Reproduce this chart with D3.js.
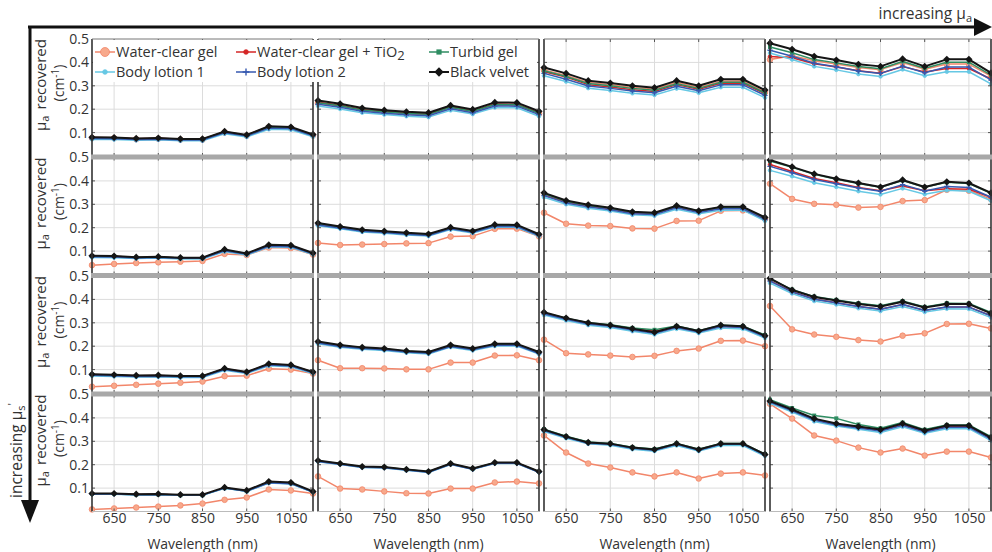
<!DOCTYPE html>
<html><head><meta charset="utf-8">
<script src="https://cdn.jsdelivr.net/npm/d3@7"></script>
<style>body{margin:0;background:#fff} svg{display:block;font-family:"Open Sans",sans-serif}</style>
</head><body><svg id="c" width="992" height="552"></svg>
<script>
// ---------------- DATA ----------------
const wavelengths = [600,650,700,750,800,850,900,950,1000,1050,1100];
const seriesNames = ["Water-clear gel","Water-clear gel + TiO2","Turbid gel","Body lotion 1","Body lotion 2","Black velvet"];
const xTickValues = [650,750,850,950,1050];
const yTickValues = [0.1,0.2,0.3,0.4,0.5];
const yTickLabels = ["0.1","0.2","0.3","0.4","0.5"];
const xAxisTitle = "Wavelength (nm)";

// each panel: [Water-clear gel, Water-clear gel + TiO2, Turbid gel, Body lotion 1, Body lotion 2, Black velvet]
const r1c1 = [
 [0.077,0.076,0.072,0.074,0.070,0.070,0.101,0.087,0.122,0.119,0.088],
 [0.079,0.078,0.074,0.076,0.072,0.072,0.104,0.089,0.125,0.122,0.090],
 [0.078,0.077,0.073,0.075,0.071,0.071,0.102,0.088,0.123,0.120,0.089],
 [0.071,0.070,0.067,0.069,0.065,0.065,0.095,0.081,0.114,0.112,0.082],
 [0.075,0.074,0.070,0.072,0.068,0.068,0.099,0.085,0.119,0.117,0.086],
 [0.080,0.079,0.075,0.077,0.073,0.073,0.105,0.090,0.127,0.124,0.092]];
const r1c2 = [
 [0.226,0.213,0.195,0.187,0.180,0.176,0.206,0.189,0.218,0.217,0.181],
 [0.230,0.217,0.199,0.191,0.184,0.180,0.210,0.193,0.222,0.221,0.185],
 [0.228,0.215,0.197,0.189,0.182,0.178,0.208,0.191,0.220,0.219,0.183],
 [0.214,0.201,0.185,0.177,0.170,0.166,0.195,0.179,0.207,0.206,0.170],
 [0.221,0.208,0.191,0.183,0.176,0.172,0.202,0.185,0.214,0.213,0.177],
 [0.237,0.223,0.205,0.196,0.189,0.185,0.216,0.199,0.229,0.228,0.191]];
const r1c3 = [
 [0.368,0.344,0.314,0.305,0.293,0.285,0.314,0.293,0.319,0.320,0.274],
 [0.360,0.337,0.305,0.295,0.283,0.276,0.305,0.285,0.311,0.311,0.266],
 [0.364,0.340,0.310,0.300,0.289,0.281,0.309,0.289,0.315,0.315,0.270],
 [0.343,0.318,0.290,0.280,0.268,0.261,0.288,0.270,0.294,0.294,0.249],
 [0.353,0.328,0.299,0.289,0.278,0.270,0.298,0.279,0.304,0.304,0.259],
 [0.378,0.353,0.322,0.312,0.300,0.292,0.322,0.300,0.328,0.328,0.282]];
const r1c4 = [
 [0.412,0.428,0.407,0.393,0.378,0.369,0.399,0.371,0.393,0.393,0.341],
 [0.425,0.420,0.394,0.380,0.364,0.354,0.382,0.359,0.374,0.374,0.329],
 [0.466,0.441,0.412,0.398,0.382,0.373,0.404,0.375,0.401,0.401,0.346],
 [0.440,0.412,0.383,0.368,0.350,0.340,0.370,0.343,0.360,0.360,0.308],
 [0.452,0.426,0.396,0.381,0.363,0.353,0.384,0.356,0.380,0.380,0.325],
 [0.482,0.456,0.426,0.410,0.392,0.383,0.415,0.383,0.413,0.413,0.355]];
const r2c1 = [
 [0.040,0.045,0.049,0.052,0.055,0.058,0.088,0.083,0.115,0.113,0.085],
 [0.079,0.078,0.073,0.075,0.071,0.071,0.105,0.089,0.125,0.123,0.091],
 [0.078,0.077,0.073,0.075,0.071,0.071,0.104,0.088,0.124,0.122,0.090],
 [0.073,0.072,0.068,0.070,0.066,0.066,0.098,0.083,0.118,0.116,0.085],
 [0.076,0.075,0.071,0.073,0.069,0.069,0.101,0.086,0.121,0.119,0.088],
 [0.080,0.079,0.074,0.076,0.072,0.072,0.107,0.090,0.127,0.125,0.092]];
const r2c2 = [
 [0.135,0.126,0.128,0.130,0.133,0.134,0.162,0.164,0.195,0.196,0.163],
 [0.215,0.202,0.188,0.182,0.175,0.170,0.198,0.183,0.209,0.208,0.169],
 [0.217,0.203,0.189,0.183,0.176,0.171,0.199,0.184,0.210,0.209,0.170],
 [0.208,0.196,0.182,0.176,0.169,0.164,0.192,0.177,0.203,0.202,0.163],
 [0.212,0.199,0.185,0.179,0.172,0.167,0.195,0.180,0.206,0.205,0.166],
 [0.220,0.205,0.191,0.185,0.178,0.173,0.201,0.186,0.213,0.212,0.172]];
const r2c3 = [
 [0.264,0.217,0.209,0.207,0.197,0.196,0.229,0.230,0.272,0.274,0.238],
 [0.340,0.310,0.292,0.280,0.263,0.259,0.288,0.268,0.284,0.284,0.239],
 [0.345,0.313,0.295,0.283,0.266,0.262,0.292,0.271,0.287,0.287,0.242],
 [0.330,0.300,0.283,0.271,0.255,0.251,0.279,0.260,0.275,0.275,0.229],
 [0.337,0.306,0.289,0.277,0.260,0.256,0.285,0.265,0.281,0.281,0.235],
 [0.349,0.316,0.298,0.285,0.268,0.264,0.294,0.272,0.289,0.289,0.244]];
const r2c4 = [
 [0.388,0.323,0.302,0.298,0.286,0.289,0.314,0.318,0.362,0.358,0.322],
 [0.470,0.440,0.410,0.392,0.372,0.358,0.378,0.358,0.366,0.364,0.330],
 [0.485,0.458,0.428,0.407,0.389,0.373,0.402,0.373,0.394,0.389,0.347],
 [0.445,0.420,0.392,0.374,0.356,0.342,0.368,0.343,0.360,0.356,0.315],
 [0.462,0.435,0.406,0.388,0.370,0.356,0.384,0.357,0.376,0.372,0.330],
 [0.489,0.460,0.430,0.409,0.391,0.374,0.404,0.374,0.396,0.391,0.349]];
const r3c1 = [
 [0.027,0.031,0.035,0.040,0.044,0.049,0.072,0.074,0.104,0.100,0.083],
 [0.079,0.077,0.074,0.075,0.072,0.072,0.104,0.089,0.124,0.119,0.089],
 [0.078,0.076,0.073,0.074,0.071,0.071,0.103,0.088,0.123,0.118,0.088],
 [0.073,0.071,0.068,0.069,0.066,0.066,0.097,0.083,0.116,0.112,0.083],
 [0.076,0.074,0.071,0.072,0.069,0.069,0.100,0.086,0.120,0.115,0.086],
 [0.080,0.078,0.075,0.076,0.073,0.073,0.105,0.090,0.125,0.120,0.090]];
const r3c2 = [
 [0.140,0.106,0.106,0.105,0.101,0.101,0.130,0.130,0.160,0.161,0.140],
 [0.216,0.201,0.192,0.187,0.177,0.172,0.202,0.187,0.207,0.207,0.172],
 [0.218,0.203,0.193,0.188,0.178,0.173,0.203,0.188,0.208,0.208,0.173],
 [0.210,0.196,0.187,0.182,0.172,0.167,0.196,0.182,0.201,0.201,0.166],
 [0.214,0.199,0.190,0.185,0.175,0.170,0.199,0.185,0.204,0.204,0.169],
 [0.220,0.205,0.195,0.190,0.180,0.175,0.205,0.190,0.210,0.210,0.175]];
const r3c3 = [
 [0.228,0.170,0.165,0.160,0.154,0.159,0.180,0.190,0.223,0.224,0.200],
 [0.340,0.318,0.297,0.288,0.272,0.265,0.280,0.263,0.285,0.281,0.241],
 [0.343,0.320,0.300,0.292,0.278,0.270,0.286,0.266,0.290,0.286,0.248],
 [0.333,0.310,0.290,0.280,0.264,0.250,0.274,0.256,0.278,0.274,0.235],
 [0.338,0.315,0.295,0.285,0.269,0.255,0.280,0.261,0.284,0.280,0.240],
 [0.345,0.320,0.300,0.290,0.275,0.260,0.285,0.265,0.290,0.285,0.245]];
const r3c4 = [
 [0.372,0.272,0.250,0.240,0.226,0.220,0.245,0.255,0.295,0.296,0.276],
 [0.480,0.432,0.402,0.386,0.370,0.358,0.378,0.352,0.368,0.367,0.330],
 [0.488,0.442,0.412,0.398,0.384,0.373,0.393,0.368,0.384,0.383,0.344],
 [0.470,0.425,0.393,0.378,0.362,0.350,0.370,0.346,0.360,0.359,0.322],
 [0.478,0.432,0.401,0.386,0.370,0.358,0.378,0.354,0.368,0.367,0.330],
 [0.490,0.440,0.410,0.395,0.380,0.370,0.390,0.365,0.380,0.380,0.340]];
const r4c1 = [
 [0.009,0.013,0.017,0.021,0.026,0.034,0.050,0.060,0.094,0.090,0.077],
 [0.076,0.076,0.073,0.074,0.071,0.071,0.101,0.088,0.125,0.121,0.084],
 [0.075,0.075,0.072,0.073,0.070,0.070,0.100,0.087,0.124,0.120,0.083],
 [0.074,0.074,0.071,0.072,0.069,0.069,0.099,0.086,0.122,0.118,0.082],
 [0.075,0.075,0.072,0.073,0.070,0.070,0.100,0.087,0.123,0.119,0.083],
 [0.077,0.077,0.074,0.075,0.072,0.072,0.103,0.090,0.128,0.124,0.086]];
const r4c2 = [
 [0.150,0.098,0.094,0.086,0.078,0.077,0.098,0.098,0.124,0.128,0.120],
 [0.215,0.203,0.190,0.188,0.178,0.169,0.203,0.182,0.207,0.207,0.169],
 [0.216,0.204,0.191,0.189,0.179,0.170,0.204,0.183,0.208,0.208,0.170],
 [0.213,0.201,0.188,0.186,0.176,0.167,0.201,0.180,0.205,0.205,0.167],
 [0.214,0.202,0.189,0.187,0.177,0.168,0.202,0.181,0.206,0.206,0.168],
 [0.218,0.205,0.192,0.190,0.180,0.171,0.205,0.184,0.209,0.209,0.171]];
const r4c3 = [
 [0.325,0.252,0.205,0.188,0.167,0.150,0.167,0.141,0.162,0.167,0.154],
 [0.345,0.316,0.291,0.286,0.269,0.261,0.286,0.261,0.286,0.286,0.240],
 [0.352,0.322,0.297,0.291,0.275,0.267,0.291,0.266,0.291,0.291,0.246],
 [0.342,0.313,0.289,0.283,0.266,0.258,0.282,0.258,0.282,0.282,0.237],
 [0.346,0.317,0.292,0.287,0.270,0.262,0.287,0.262,0.287,0.287,0.241],
 [0.350,0.320,0.295,0.290,0.273,0.265,0.290,0.265,0.290,0.290,0.244]];
const r4c4 = [
 [0.460,0.397,0.325,0.303,0.273,0.252,0.269,0.239,0.256,0.256,0.231],
 [0.470,0.430,0.392,0.372,0.360,0.346,0.370,0.342,0.362,0.362,0.311],
 [0.478,0.442,0.410,0.398,0.372,0.356,0.380,0.350,0.370,0.370,0.320],
 [0.462,0.425,0.385,0.365,0.352,0.338,0.362,0.334,0.354,0.354,0.303],
 [0.468,0.430,0.391,0.370,0.357,0.344,0.368,0.340,0.360,0.360,0.309],
 [0.472,0.436,0.397,0.376,0.363,0.350,0.376,0.346,0.367,0.367,0.316]];

const panels = [[r1c1,r1c2,r1c3,r1c4],[r2c1,r2c2,r2c3,r2c4],[r3c1,r3c2,r3c3,r3c4],[r4c1,r4c2,r4c3,r4c4]];

// ---------------- STYLE ----------------
const seriesStyle = [
  {color:"#f2866a", fill:"#f7a98c", marker:"circle", r:2.8, lw:1.5},
  {color:"#d42626", fill:"#d42626", marker:"circle", r:1.8, lw:1.5},
  {color:"#2f8d62", fill:"#2f8d62", marker:"square", r:2.0, lw:1.5},
  {color:"#66c8e4", fill:"#66c8e4", marker:"circle", r:1.8, lw:1.5},
  {color:"#3659b0", fill:"#3659b0", marker:"plus",   r:2.6, lw:1.5},
  {color:"#151515", fill:"#151515", marker:"diamond",r:3.6, lw:2.0}
];

const svg = d3.select("#c");
const W = 221, H = 117;
const colX = i => 92 + i*226;
const rowY = j => 39 + j*118.5;
const x = d3.scaleLinear().domain([600,1100]).range([0,W]);
const y = d3.scaleLinear().domain([0,0.5]).range([H,0]);
const line = d3.line().x((d,i)=>x(wavelengths[i])).y(d=>y(d));

function drawMarker(g, type, cx, cy, st, scale=1){
  const r = st.r*scale;
  if(type==="circle"){
    g.append("circle").attr("cx",cx).attr("cy",cy).attr("r",r).attr("fill",st.fill).attr("stroke",st.color).attr("stroke-width",0.8);
  } else if(type==="square"){
    g.append("rect").attr("x",cx-r).attr("y",cy-r).attr("width",2*r).attr("height",2*r).attr("fill",st.fill);
  } else if(type==="plus"){
    g.append("path").attr("d",`M${cx-r},${cy}H${cx+r}M${cx},${cy-r}V${cy+r}`).attr("stroke",st.color).attr("stroke-width",1.4);
  } else if(type==="diamond"){
    g.append("path").attr("d",`M${cx},${cy-r}L${cx+r},${cy}L${cx},${cy+r}L${cx-r},${cy}Z`).attr("fill",st.fill);
  }
}

const panelLayer = svg.append("g");
panels.forEach((row, r) => {
  row.forEach((series, c) => {
    const g = panelLayer.append("g").attr("transform", `translate(${colX(c)},${rowY(r)})`);
    g.append("rect").attr("width",W).attr("height",H).attr("fill","#fff");
    // grid
    g.selectAll(".gx").data(xTickValues).join("line")
      .attr("x1",d=>x(d)).attr("x2",d=>x(d)).attr("y1",0).attr("y2",H)
      .attr("stroke","#dcdcdc").attr("stroke-width",1);
    g.selectAll(".gy").data(yTickValues.slice(0,4)).join("line")
      .attr("x1",0).attr("x2",W).attr("y1",d=>y(d)).attr("y2",d=>y(d))
      .attr("stroke","#dcdcdc").attr("stroke-width",1);
    // series
    series.forEach((vals, si) => {
      const st = seriesStyle[si];
      g.append("path").datum(vals).attr("d", line)
        .attr("fill","none").attr("stroke",st.color).attr("stroke-width",st.lw)
        .attr("stroke-linejoin","round");
      const mg = g.append("g");
      vals.forEach((v,i)=> drawMarker(mg, st.marker, x(wavelengths[i]), y(v), st));
    });
    // inward ticks on frame
    g.selectAll(".ty").data(yTickValues.slice(0,4)).join("path")
      .attr("d",d=>`M0,${y(d)}h3M${W},${y(d)}h-3`).attr("stroke","#555").attr("stroke-width",1);
    g.selectAll(".tx").data(xTickValues).join("path")
      .attr("d",d=>`M${x(d)},0v3M${x(d)},${H}v-3`).attr("stroke","#555").attr("stroke-width",1);
    // frame
    g.append("line").attr("x1",0).attr("x2",0).attr("y1",0).attr("y2",H).attr("stroke","#333").attr("stroke-width",1.6);
    g.append("line").attr("x1",W).attr("x2",W).attr("y1",0).attr("y2",H).attr("stroke","#333").attr("stroke-width",1.6);
    if(r===0){
      g.append("line").attr("x1",0).attr("x2",W).attr("y1",0).attr("y2",0).attr("stroke","#777").attr("stroke-width",1);
    }
    if(r===3){
      g.append("line").attr("x1",0).attr("x2",W).attr("y1",H).attr("y2",H).attr("stroke","#bbb").attr("stroke-width",1);
      const ax = g.append("g").attr("transform",`translate(0,${H})`)
        .call(d3.axisBottom(x).tickValues(xTickValues).tickSize(0).tickPadding(2).tickFormat(d3.format("d")));
      ax.select(".domain").remove();
      ax.selectAll("text").attr("font-size",14).attr("fill","#333").attr("font-family","'Open Sans',sans-serif");
      g.append("text").attr("x",W/2).attr("y",H+37).attr("text-anchor","middle")
        .attr("font-size",14).attr("fill","#333").text(xAxisTitle);
    }
    if(c===0){
      const ay = g.append("g")
        .call(d3.axisLeft(y).tickValues(yTickValues).tickSize(0).tickPadding(3).tickFormat((d,i)=>yTickLabels[i]));
      ay.select(".domain").remove();
      ay.selectAll("text").attr("font-size",14).attr("fill","#333").attr("font-family","'Open Sans',sans-serif");
    }
  });
});

// gray bands between rows
for(let r=1;r<4;r++){
  for(let c=0;c<4;c++){
    svg.append("rect").attr("x",colX(c)-1).attr("y",rowY(r)-3).attr("width",W+2).attr("height",5)
      .attr("fill","#a8a8a8");
  }
}

// y-axis titles
for(let r=0;r<4;r++){
  const cy = rowY(r)+46;
  const t1 = svg.append("text").attr("transform",`translate(46,${cy}) rotate(-90)`)
    .attr("text-anchor","middle").attr("font-size",15).attr("fill","#333");
  t1.append("tspan").text("μ");
  t1.append("tspan").attr("font-size",11).attr("dy",3).text("a");
  t1.append("tspan").attr("dy",-3).attr("dx",6).text("recovered");
  const t2 = svg.append("text").attr("transform",`translate(64,${cy-2}) rotate(-90)`)
    .attr("text-anchor","middle").attr("font-size",14).attr("fill","#333");
  t2.append("tspan").text("(cm");
  t2.append("tspan").attr("font-size",10).attr("dy",-5).text("-1");
  t2.append("tspan").attr("dy",5).text(")");
}

// legend
const lg = svg.append("g");
lg.append("rect").attr("x",93).attr("y",40).attr("width",444).attr("height",42).attr("fill","#fff");
const legendPos = [[95,52],[236,52],[429,52],[95,72],[236,72],[429,72]];
seriesNames.forEach((name,i)=>{
  const st = seriesStyle[i];
  const [lx,ly] = legendPos[i];
  lg.append("line").attr("x1",lx).attr("x2",lx+20).attr("y1",ly).attr("y2",ly)
    .attr("stroke",st.color).attr("stroke-width",st.lw);
  drawMarker(lg, st.marker, lx+10, ly, st, i===0?1.6:1.3);
  const t = lg.append("text").attr("x",lx+21).attr("y",ly).attr("dy","0.35em")
    .attr("font-size",14.5).attr("fill","#333");
  if(name.endsWith("TiO2")){
    t.append("tspan").text(name.slice(0,-1));
    t.append("tspan").attr("dy",3).attr("font-size",13).text("2");
  } else {
    t.text(name);
  }
});

// arrows
svg.append("path").attr("d","M28,27H978").attr("stroke","#111").attr("stroke-width",3).attr("fill","none");
svg.append("path").attr("d","M974,18L992,27L974,36Z").attr("fill","#111");
svg.append("path").attr("d","M30,26V505").attr("stroke","#111").attr("stroke-width",3).attr("fill","none");
svg.append("path").attr("d","M21,500L30,523L39,500Z").attr("fill","#111");

const ta = svg.append("text").attr("x",972).attr("y",19).attr("text-anchor","end")
  .attr("font-size",15.5).attr("fill","#333");
ta.append("tspan").text("increasing μ");
ta.append("tspan").attr("font-size",11).attr("dy",3).text("a");

const ts = svg.append("text").attr("transform","translate(22,498) rotate(-90)").attr("text-anchor","start")
  .attr("font-size",15.5).attr("fill","#333");
ts.append("tspan").text("increasing μ");
ts.append("tspan").attr("font-size",11).attr("dy",3).text("s");
ts.append("tspan").attr("font-size",11).attr("dy",-9).text("'");
</script>
</body></html>
